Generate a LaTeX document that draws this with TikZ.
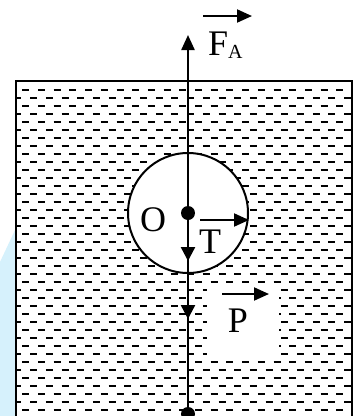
\documentclass[tikz,border=0pt]{standalone}
\usepackage{fontspec}
\setmainfont{Liberation Serif}
\usetikzlibrary{arrows.meta}
\definecolor{wmblue}{RGB}{214,241,252}
\tikzset{
  big/.style={font=\fontsize{36}{36}\selectfont, inner sep=0pt, anchor=base},
  force/.style={line width=2pt, -{Triangle[length=15pt,width=13pt]}},
  headonly/.style={line width=2.4pt, -{Triangle[length=14pt,width=14pt]}},
  water/.style={line width=1.8pt, dash pattern=on 7pt off 8.7pt},
  wall/.style={line width=2pt},
  blackdot/.style={circle, fill=black, inner sep=0pt, minimum size=14pt}
}
\begin{document}
\begin{tikzpicture}[x=1pt,y=-1pt]
\useasboundingbox (0,0) rectangle (355,416);
\clip (0,0) rectangle (355,416);
\fill[white] (0,0) rectangle (355,416);
% watermark
\fill[wmblue] (16,228) -- (0,262) -- (0,416) -- (16,416) -- cycle;
% water lines
\begin{scope}
  \clip (16,81) rectangle (352,430);
  \foreach \i in {0,...,40}{
    \pgfmathsetmacro{\yy}{90+8*\i}
    \pgfmathsetmacro{\xs}{mod(\i,2)==0 ? 6.6 : 14.45}
    \draw[water] (\xs,\yy) -- (360,\yy);
  }
\end{scope}
% container walls
\coordinate (wl) at (16,430);
\coordinate (wtl) at (16,81);
\coordinate (wtr) at (352,81);
\coordinate (wr) at (352,430);
\draw[wall] (wl) -- (wtl) -- (wtr) -- (wr);
% white patch behind P
\fill[white] (207,286) rectangle (279,360);
% ball
\node[circle, draw, line width=2pt, fill=white, minimum size=120pt, inner sep=0pt] (ball) at (188,213) {};
% string / force line
\coordinate (top) at (188,35);
\node[blackdot] (bot) at (188,414) {};
\node[blackdot] (O) at (188,213) {};
\draw[line width=2.4pt, -{Triangle[length=15pt,width=13pt]}] (bot.center) -- (top);
% downward heads
\coordinate (d1s) at (188,240);
\coordinate (d1e) at (188,261);
\coordinate (d2s) at (188,300);
\coordinate (d2e) at (188,319);
\draw[headonly] (d1s) -- (d1e);
\draw[headonly] (d2s) -- (d2e);
% labels
\node[big] (lO) at (153,231.5) {O};
\node[big] (lT) at (210,253) {T};
\node[big] (lP) at (238,332.5) {P};
\node[big, anchor=base west] (lF) at (208,55) {F\raisebox{-3pt}{\fontsize{20}{20}\selectfont A}};
% vector arrows over labels
\coordinate (fa1) at (203,16);
\coordinate (fa2) at (252,16);
\draw[force] (fa1) -- (fa2);
\coordinate (t1) at (200,220);
\draw[force] (t1) -- (ball.east |- t1);
\coordinate (p1) at (222,294);
\coordinate (p2) at (269,294);
\draw[force] (p1) -- (p2);
\end{tikzpicture}
\end{document}
